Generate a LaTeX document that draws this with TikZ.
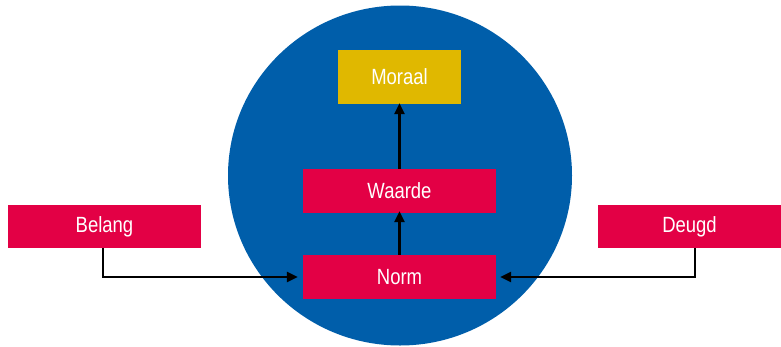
\documentclass[tikz,border=0pt]{standalone}
\usepackage{fontspec}
\setmainfont[FakeStretch=0.84]{Liberation Sans}
\usetikzlibrary{arrows.meta}
\definecolor{cblue}{HTML}{005EAA}
\definecolor{cred}{HTML}{E30045}
\definecolor{cgold}{HTML}{E0B800}
\begin{document}
\begin{tikzpicture}[x=1pt,y=-1pt,
  box/.style={fill=cred,text=white,inner sep=0pt,font=\fontsize{22}{26}\selectfont},
  conn/.style={line width=2.4pt,-{Triangle[length=11pt,width=10pt]}}]
\useasboundingbox (0,0) rectangle (781,346);
\fill[cblue] (400,175.5) ellipse [x radius=172, y radius=170];
\node[box,fill=cgold,minimum width=123pt,minimum height=54pt] (moraal) at (399.5,77) {Moraal};
\node[box,minimum width=193pt,minimum height=44pt] (waarde) at (399.5,191) {Waarde};
\node[box,minimum width=193pt,minimum height=44pt] (norm) at (399.5,277) {Norm};
\node[box,minimum width=193pt,minimum height=43pt] (belang) at (104.5,226.5) {Belang};
\node[box,minimum width=183pt,minimum height=43pt] (deugd) at (689.5,226.5) {Deugd};
\coordinate (bl) at (103,277);
\coordinate (dg) at (695,277);
\draw[conn] (norm.north) -- ([yshift=2pt]waarde.south);
\draw[conn] (waarde.north) -- ([yshift=1pt]moraal.south);
\draw[conn] (belang.south -| bl) -- (bl) -- ([xshift=-5pt]norm.west);
\draw[conn] (deugd.south -| dg) -- (dg) -- ([xshift=4pt]norm.east);
\end{tikzpicture}
\end{document}
